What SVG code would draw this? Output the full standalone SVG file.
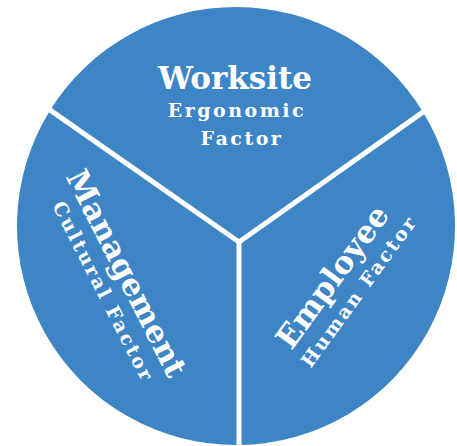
<svg xmlns="http://www.w3.org/2000/svg" width="457" height="446" viewBox="0 0 457 446">
  <style>
    .sector { fill: #3e85c5; }
    .title { font-family: "DejaVu Serif", "Liberation Serif", serif; font-weight: bold; font-size: 31px; fill: #ffffff; text-anchor: middle; }
    .sub { font-family: "DejaVu Serif", "Liberation Serif", serif; font-weight: bold; font-size: 19px; letter-spacing: 2.5px; fill: #ffffff; text-anchor: middle; }
    .divider { stroke: #ffffff; stroke-width: 5; fill: none; }
  </style>
  <rect width="457" height="446" fill="#ffffff"/>

  <!-- top sector -->
  <g id="worksite">
    <path class="sector" d="M239,242 L50.3,109.9 A219,219 0 0 1 423,112 Z"/>
    <text class="title" x="235" y="89">Worksite</text>
    <text class="sub" x="237" y="117">Ergonomic</text>
    <text class="sub" x="242" y="145">Factor</text>
  </g>

  <!-- right sector -->
  <g id="employee">
    <path class="sector" d="M239,242 L423,112 A219,219 0 0 1 239,445 Z"/>
    <g transform="translate(341,283) rotate(-54)">
      <text class="title" x="0" y="0">Employee</text>
      <text class="sub" x="4" y="26">Human Factor</text>
    </g>
  </g>

  <!-- left sector -->
  <g id="management">
    <path class="sector" d="M239,242 L239,445 A219,219 0 0 1 50.3,109.9 Z"/>
    <g transform="translate(117,278) rotate(63)">
      <text class="title" x="0" y="0">Management</text>
      <text class="sub" x="6" y="25">Cultural Factor</text>
    </g>
  </g>

  <!-- white separators between sectors -->
  <g id="dividers">
    <line class="divider" x1="239" y1="242" x2="48" y2="108.6"/>
    <line class="divider" x1="239" y1="242" x2="425" y2="110.6"/>
    <line class="divider" x1="239" y1="241" x2="239" y2="446"/>
  </g>
</svg>
